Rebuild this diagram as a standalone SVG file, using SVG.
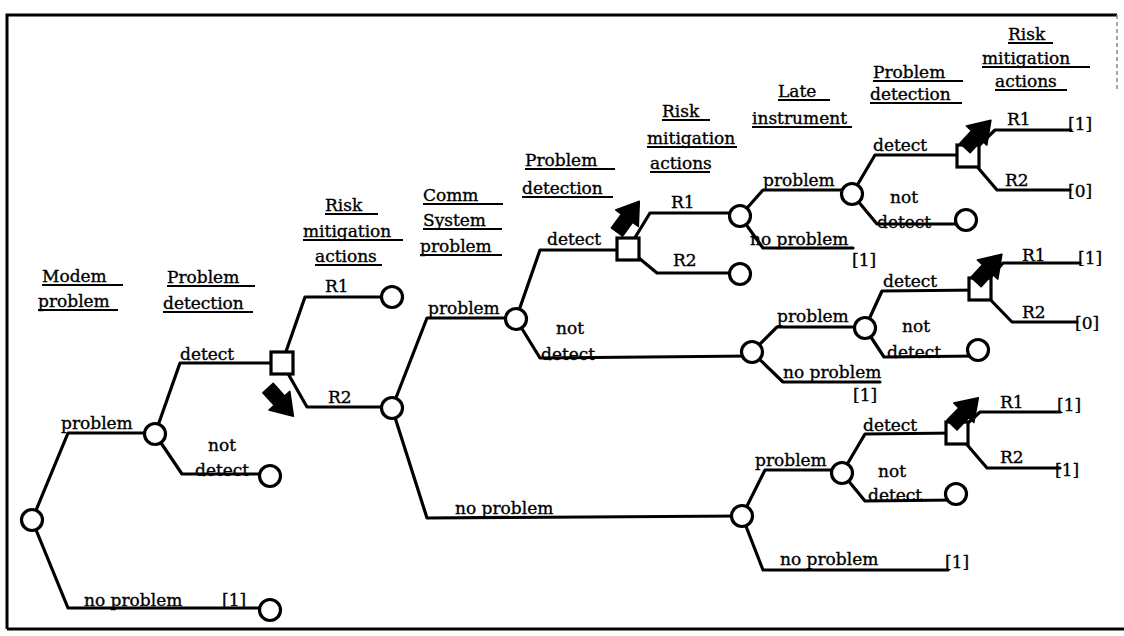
<svg xmlns="http://www.w3.org/2000/svg" width="1124" height="636" viewBox="0 0 1124 636">
<style>
.t{font-family:"DejaVu Serif","Liberation Serif",serif;font-size:17px;fill:#000;stroke:#000;stroke-width:0.35}
.e{fill:none;stroke:#000;stroke-width:3.2;stroke-linejoin:round;stroke-linecap:round}
.ul{fill:none;stroke:#000;stroke-width:1.8}
.c{fill:#fff;stroke:#000;stroke-width:3.2}
.s{fill:#fff;stroke:#000;stroke-width:3.2}
.a{fill:#000;stroke:#000;stroke-width:1.5;stroke-linejoin:round}
.bd{fill:none;stroke:#000;stroke-width:3}
</style>
<defs>
<path id="blk" d="M0,-7 L17,-7 L17,-14 L38,0 L17,14 L17,7 L0,7 Z"/>
</defs>
<rect width="1124" height="636" fill="#fff"/>
<g id="border">
<path class="bd" d="M7,629 L7,15 L1117,15"/>
<path class="bd" d="M7,629 L1124,629"/>
<path d="M1117,15 L1117,92" stroke="#888" stroke-width="1.5" stroke-dasharray="4,3" fill="none"/>
</g>
<g id="headers">
<text class="t" x="42" y="282">Modem</text><path class="ul" d="M42,285 H123"/>
<text class="t" x="38" y="307">problem</text><path class="ul" d="M38,310 H118"/>
<text class="t" x="167" y="283">Problem</text><path class="ul" d="M167,286 H255"/>
<text class="t" x="163" y="309">detection</text><path class="ul" d="M163,312 H253"/>
<text class="t" x="325" y="211">Risk</text><path class="ul" d="M325,214 H378"/>
<text class="t" x="303" y="237">mitigation</text><path class="ul" d="M303,240 H403"/>
<text class="t" x="315" y="262">actions</text><path class="ul" d="M315,265 H382"/>
<text class="t" x="423" y="201">Comm</text><path class="ul" d="M423,204 H503"/>
<text class="t" x="423" y="226">System</text><path class="ul" d="M423,229 H502"/>
<text class="t" x="420" y="252">problem</text><path class="ul" d="M420,255 H502"/>
<text class="t" x="525" y="166">Problem</text><path class="ul" d="M525,169 H615"/>
<text class="t" x="522" y="194">detection</text><path class="ul" d="M522,197 H613"/>
<text class="t" x="662" y="117">Risk</text><path class="ul" d="M662,120 H710"/>
<text class="t" x="647" y="144">mitigation</text><path class="ul" d="M647,147 H737"/>
<text class="t" x="650" y="169">actions</text><path class="ul" d="M650,172 H710"/>
<text class="t" x="778" y="97">Late</text><path class="ul" d="M778,100 H830"/>
<text class="t" x="752" y="124">instrument</text><path class="ul" d="M752,127 H852"/>
<text class="t" x="873" y="78">Problem</text><path class="ul" d="M873,81 H963"/>
<text class="t" x="870" y="100">detection</text><path class="ul" d="M870,103 H962"/>
<text class="t" x="1008" y="40">Risk</text><path class="ul" d="M1008,43 H1053"/>
<text class="t" x="982" y="64">mitigation</text><path class="ul" d="M982,67 H1090"/>
<text class="t" x="995" y="87">actions</text><path class="ul" d="M995,90 H1067"/>
</g>
<g id="connectors">
<path class="e" d="M32,520 L68,433 L155,433"/>
<path class="e" d="M32,520 L68,608 L270,608"/>
<path class="e" d="M155,434 L180,363 L282,363"/>
<path class="e" d="M155,434 L182,474 L270,474"/>
<path class="e" d="M282,363 L305,297 L392,297"/>
<path class="e" d="M282,363 L307,407 L392,407"/>
<path class="e" d="M392,408 L427,318 L516,318"/>
<path class="e" d="M392,408 L427,518 L742,516"/>
<path class="e" d="M516,319 L540,250 L628,250"/>
<path class="e" d="M516,319 L540,358 L752,356"/>
<path class="e" d="M628,249 L650,213 L740,213"/>
<path class="e" d="M628,249 L657,273 L740,273"/>
<path class="e" d="M740,216 L763,190 L852,190"/>
<path class="e" d="M740,216 L763,248 L853,248"/>
<path class="e" d="M852,194 L875,155 L968,155"/>
<path class="e" d="M852,194 L877,224 L966,224"/>
<path class="e" d="M968,156 L995,130 L1071,130"/>
<path class="e" d="M968,156 L997,190 L1070,190"/>
<path class="e" d="M752,352 L777,327 L865,327"/>
<path class="e" d="M752,352 L783,382 L880,382"/>
<path class="e" d="M865,328 L882,291 L980,290"/>
<path class="e" d="M865,328 L884,357 L978,356"/>
<path class="e" d="M980,289 L1003,263 L1080,263"/>
<path class="e" d="M980,289 L1012,322 L1077,322"/>
<path class="e" d="M742,516 L765,470 L842,470"/>
<path class="e" d="M742,516 L763,570 L948,570"/>
<path class="e" d="M842,473 L865,434 L957,433"/>
<path class="e" d="M842,473 L865,501 L956,500"/>
<path class="e" d="M957,433 L980,412 L1060,412"/>
<path class="e" d="M957,433 L987,468 L1060,468"/>
</g>
<g id="branch-labels">
<text class="t" x="61" y="429">problem</text>
<text class="t" x="84" y="606">no problem</text>
<text class="t" x="222" y="606">[1]</text>
<text class="t" x="180" y="360">detect</text>
<text class="t" x="208" y="451">not</text>
<text class="t" x="195" y="476">detect</text>
<text class="t" x="325" y="292">R1</text>
<text class="t" x="328" y="403">R2</text>
<text class="t" x="428" y="314">problem</text>
<text class="t" x="455" y="514">no problem</text>
<text class="t" x="547" y="245">detect</text>
<text class="t" x="556" y="334">not</text>
<text class="t" x="541" y="360">detect</text>
<text class="t" x="671" y="208">R1</text>
<text class="t" x="673" y="266">R2</text>
<text class="t" x="763" y="186">problem</text>
<text class="t" x="750" y="245">no problem</text>
<text class="t" x="852" y="266">[1]</text>
<text class="t" x="873" y="151">detect</text>
<text class="t" x="890" y="203">not</text>
<text class="t" x="877" y="228">detect</text>
<text class="t" x="1007" y="125">R1</text>
<text class="t" x="1068" y="130">[1]</text>
<text class="t" x="1005" y="186">R2</text>
<text class="t" x="1068" y="197">[0]</text>
<text class="t" x="777" y="322">problem</text>
<text class="t" x="783" y="378">no problem</text>
<text class="t" x="853" y="401">[1]</text>
<text class="t" x="883" y="287">detect</text>
<text class="t" x="902" y="332">not</text>
<text class="t" x="887" y="358">detect</text>
<text class="t" x="1022" y="261">R1</text>
<text class="t" x="1078" y="264">[1]</text>
<text class="t" x="1022" y="318">R2</text>
<text class="t" x="1075" y="329">[0]</text>
<text class="t" x="755" y="466">problem</text>
<text class="t" x="780" y="565">no problem</text>
<text class="t" x="945" y="568">[1]</text>
<text class="t" x="863" y="431">detect</text>
<text class="t" x="878" y="477">not</text>
<text class="t" x="868" y="501">detect</text>
<text class="t" x="1000" y="408">R1</text>
<text class="t" x="1057" y="411">[1]</text>
<text class="t" x="1000" y="463">R2</text>
<text class="t" x="1055" y="476">[1]</text>
</g>
<g id="n-root"><circle class="c" cx="32" cy="520" r="10.5"/></g>
<g id="n-modem-detect"><circle class="c" cx="155" cy="434" r="10.5"/></g>
<g id="n-modem-nodetect-end"><circle class="c" cx="270" cy="476" r="10.5"/></g>
<g id="n-modem-noproblem-end"><circle class="c" cx="270" cy="610" r="10.5"/></g>
<g id="n-decision-1"><rect class="s" x="271" y="352" width="22" height="22"/></g>
<g id="n-r1-end"><circle class="c" cx="392" cy="297" r="10.5"/></g>
<g id="n-comm"><circle class="c" cx="392" cy="408" r="10.5"/></g>
<g id="n-comm-detect"><circle class="c" cx="516" cy="319" r="10.5"/></g>
<g id="n-decision-2"><rect class="s" x="617" y="238" width="22" height="22"/></g>
<g id="n-late-1"><circle class="c" cx="740" cy="216" r="10.5"/></g>
<g id="n-r2-end-2"><circle class="c" cx="740" cy="274" r="10.5"/></g>
<g id="n-late-detect-1"><circle class="c" cx="852" cy="194" r="10.5"/></g>
<g id="n-decision-3"><rect class="s" x="957" y="145" width="22" height="22"/></g>
<g id="n-nodetect-end-1"><circle class="c" cx="966" cy="220" r="10.5"/></g>
<g id="n-late-2"><circle class="c" cx="752" cy="352" r="10.5"/></g>
<g id="n-late-detect-2"><circle class="c" cx="865" cy="328" r="10.5"/></g>
<g id="n-decision-4"><rect class="s" x="969" y="278" width="22" height="22"/></g>
<g id="n-nodetect-end-2"><circle class="c" cx="978" cy="350" r="10.5"/></g>
<g id="n-late-3"><circle class="c" cx="742" cy="516" r="10.5"/></g>
<g id="n-late-detect-3"><circle class="c" cx="842" cy="473" r="10.5"/></g>
<g id="n-decision-5"><rect class="s" x="946" y="422" width="22" height="22"/></g>
<g id="n-nodetect-end-3"><circle class="c" cx="956" cy="494" r="10.5"/></g>
<g id="choice-arrows">
<use href="#blk" class="a" transform="translate(268,388) rotate(48)"/>
<use href="#blk" class="a" transform="translate(617,232) rotate(-54)"/>
<use href="#blk" class="a" transform="translate(965,148) rotate(-47)"/>
<use href="#blk" class="a" transform="translate(976,282) rotate(-47)"/>
<use href="#blk" class="a" transform="translate(952,425) rotate(-46)"/>
</g>
</svg>
